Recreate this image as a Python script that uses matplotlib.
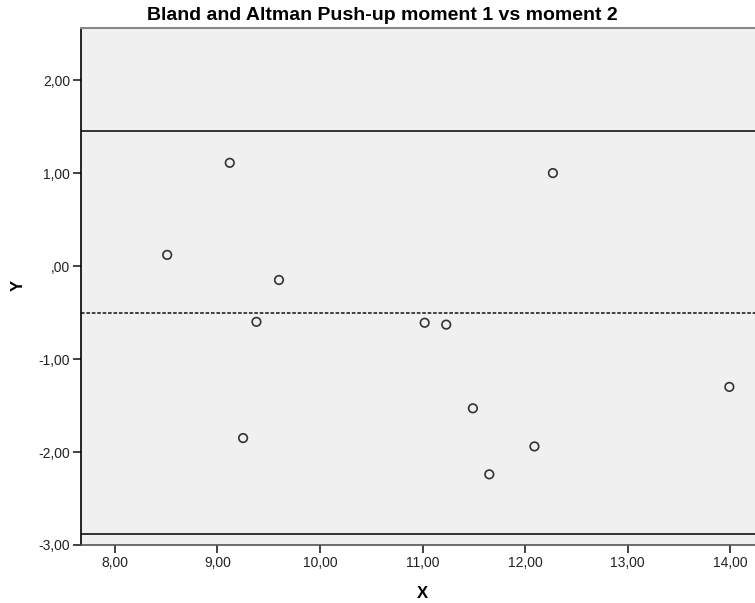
import numpy as np
import matplotlib
matplotlib.use("Agg")
import matplotlib.pyplot as plt
from matplotlib.ticker import FuncFormatter

plt.rcParams['font.family'] = ['Liberation Sans', 'DejaVu Sans']

# Bland-Altman points
mean_x = [8.51, 9.12, 9.25, 9.38, 9.60, 11.02, 11.23, 11.49, 11.65, 12.09, 12.27, 13.99]
diff_y = [0.12, 1.11, -1.85, -0.60, -0.15, -0.61, -0.63, -1.53, -2.24, -1.94, 1.00, -1.30]

mean_diff = -0.50
upper_loa = 1.45
lower_loa = -2.88

xticks = [8, 9, 10, 11, 12, 13, 14]
yticks = [-3, -2, -1, 0, 1, 2]


def comma_fmt(v, pos):
    s = "%.2f" % v
    if s.startswith("0."):
        s = s[1:]
    elif s.startswith("-0."):
        s = "-" + s[2:]
    return s.replace(".", ",")


fig = plt.figure(figsize=(7.55, 6.03), dpi=100)
ax = fig.add_axes([81 / 755, 1 - 545 / 603, 1 - 81 / 755, (545 - 28) / 603])
ax.set_facecolor("#f0f0f0")

ax.axhline(upper_loa, color="black", lw=1.1)
ax.axhline(lower_loa, color="black", lw=1.1)
ax.axhline(mean_diff, color="#333333", lw=1.3, ls=(0, (2, 1)))

ax.scatter(mean_x, diff_y, s=38, facecolors="none", edgecolors="#333333", linewidths=1.2, zorder=3)

ax.set_xlim(7.67, 14.24)
ax.set_ylim(-3.0, 2.56)
ax.set_xticks(xticks)
ax.set_yticks(yticks)
ax.xaxis.set_major_formatter(FuncFormatter(comma_fmt))
ax.yaxis.set_major_formatter(FuncFormatter(comma_fmt))
ax.tick_params(labelsize=10, length=6, width=1.2, color="#222222", labelcolor="#222222", pad=2)

ax.spines["left"].set_color("black")
ax.spines["left"].set_linewidth(1.2)
ax.spines["bottom"].set_color("#555555")
ax.spines["bottom"].set_linewidth(1.2)
ax.spines["top"].set_color("#888888")
ax.spines["top"].set_linewidth(1.5)
ax.spines["right"].set_visible(False)

fig.text(422 / 755, 1 - 593 / 603, "X", ha="center", va="center", fontsize=12, fontweight="bold")
fig.text(18 / 755, 1 - 285 / 603, "Y", ha="center", va="center", fontsize=12, fontweight="bold", rotation=90)
fig.text(382 / 755, 1 - 15 / 603, "Bland and Altman Push-up moment 1 vs moment 2",
         ha="center", va="center", fontsize=14, fontweight="bold")

fig.savefig("out.png", dpi=100)
